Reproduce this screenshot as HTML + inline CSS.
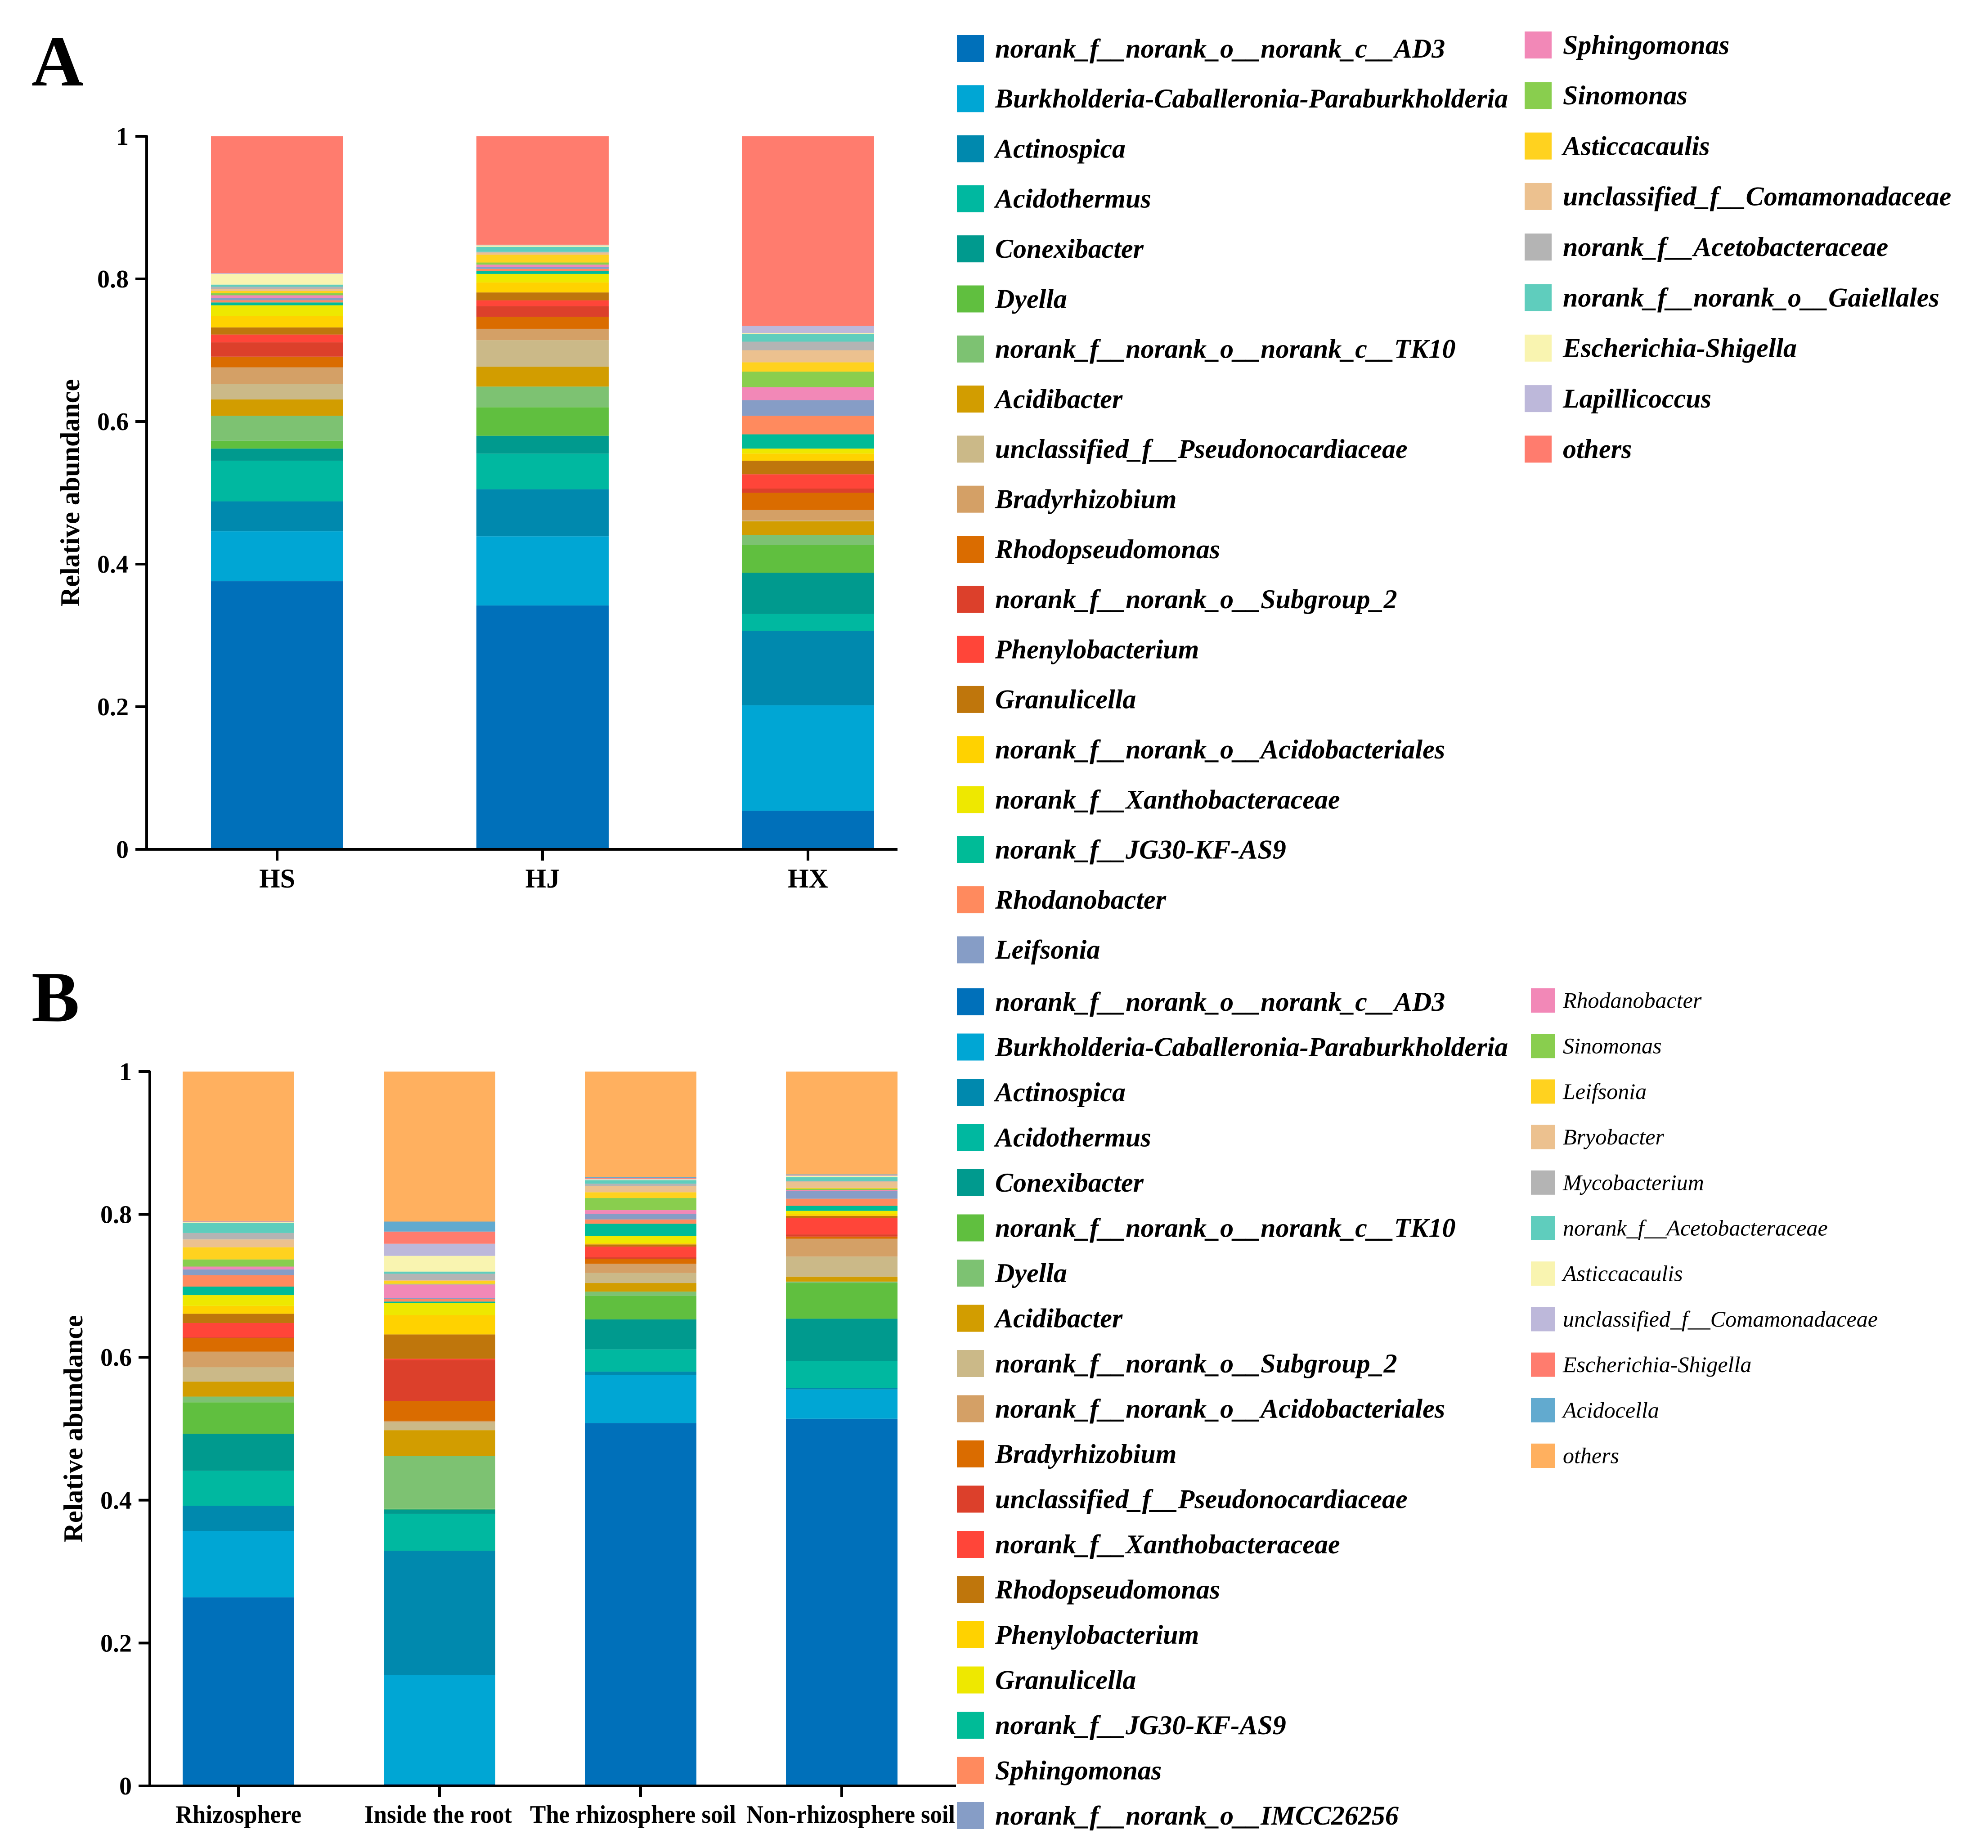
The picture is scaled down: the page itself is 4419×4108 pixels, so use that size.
<!DOCTYPE html>
<html><head><meta charset="utf-8">
<style>
html,body{margin:0;padding:0;background:#fff;}
svg{display:block;font-family:"Liberation Serif",serif;}
</style></head>
<body>
<svg id="chart" width="4419" height="4108" viewBox="0 0 4419 4108" xmlns="http://www.w3.org/2000/svg">
<text x="70" y="190" font-size="160" font-weight="bold">A</text>
<text x="70" y="2270" font-size="160" font-weight="bold">B</text>
<g id="pa"></g>
<g id="pb"></g>
<g id="la"></g>
<g id="lb"></g>
</svg>
<script>
const palette = ["#0070BA","#00A6D4","#0089AE","#00B8A0","#009A8E","#60BF3F","#7DC272","#D29D00","#CBB988","#D4A066","#DA6C00","#DC402B","#FF4539","#BF760C","#FFD200","#EEE800","#00BB97","#FF8A5E","#869DC6","#F288B7","#89CE4E","#FFD21F","#ECC18F","#B4B4B4","#5FCDBD","#F9F4B0","#BDB8DA"];
const colorsAOthers = "#FF7C6E";
const colorsBExtra = ["#FF7C6E","#62AACF","#FFB05F"];

const seriesA = ["norank_f__norank_o__norank_c__AD3","Burkholderia-Caballeronia-Paraburkholderia","Actinospica","Acidothermus","Conexibacter","Dyella","norank_f__norank_o__norank_c__TK10","Acidibacter","unclassified_f__Pseudonocardiaceae","Bradyrhizobium","Rhodopseudomonas","norank_f__norank_o__Subgroup_2","Phenylobacterium","Granulicella","norank_f__norank_o__Acidobacteriales","norank_f__Xanthobacteraceae","norank_f__JG30-KF-AS9","Rhodanobacter","Leifsonia","Sphingomonas","Sinomonas","Asticcacaulis","unclassified_f__Comamonadaceae","norank_f__Acetobacteraceae","norank_f__norank_o__Gaiellales","Escherichia-Shigella","Lapillicoccus","others"];
const categoriesA = ["HS","HJ","HX"];
// cumulative tops per sample (bottom to top)
const cumHS = [0.376,0.446,0.488,0.545,0.562,0.573,0.608,0.631,0.653,0.676,0.691,0.711,0.722,0.732,0.748,0.763,0.767,0.770,0.773,0.777,0.780,0.783,0.786,0.789,0.792,0.807,0.808,1];
const cumHJ = [0.342,0.439,0.505,0.555,0.580,0.620,0.649,0.677,0.714,0.730,0.747,0.762,0.770,0.781,0.795,0.807,0.811,0.814,0.817,0.820,0.823,0.834,0.837,0.838,0.845,0.847,0.848,1];
const cumHX = [0.054,0.202,0.306,0.330,0.388,0.427,0.441,0.460,0.461,0.476,0.500,0.506,0.526,0.545,0.555,0.562,0.582,0.608,0.630,0.648,0.670,0.683,0.700,0.712,0.723,0.724,0.734,1];

const seriesB = ["norank_f__norank_o__norank_c__AD3","Burkholderia-Caballeronia-Paraburkholderia","Actinospica","Acidothermus","Conexibacter","norank_f__norank_o__norank_c__TK10","Dyella","Acidibacter","norank_f__norank_o__Subgroup_2","norank_f__norank_o__Acidobacteriales","Bradyrhizobium","unclassified_f__Pseudonocardiaceae","norank_f__Xanthobacteraceae","Rhodopseudomonas","Phenylobacterium","Granulicella","norank_f__JG30-KF-AS9","Sphingomonas","norank_f__norank_o__IMCC26256","Rhodanobacter","Sinomonas","Leifsonia","Bryobacter","Mycobacterium","norank_f__Acetobacteraceae","Asticcacaulis","unclassified_f__Comamonadaceae","Escherichia-Shigella","Acidocella","others"];
const categoriesB = ["Rhizosphere","Inside the root","The rhizosphere soil","Non-rhizosphere soil"];
const cumRh = [0.264,0.357,0.392,0.441,0.493,0.537,0.545,0.566,0.586,0.608,0.627,0.628,0.648,0.661,0.672,0.687,0.699,0.715,0.723,0.727,0.737,0.754,0.765,0.774,0.788,0.789,0.790,0.7905,0.791,1];
const cumIn = [0.003,0.155,0.329,0.381,0.387,0.388,0.462,0.498,0.509,0.511,0.539,0.596,0.598,0.632,0.659,0.676,0.678,0.682,0.683,0.702,0.703,0.707,0.708,0.717,0.720,0.742,0.759,0.776,0.790,1];
const cumRs = [0.508,0.575,0.580,0.611,0.653,0.686,0.692,0.704,0.718,0.731,0.738,0.740,0.755,0.758,0.760,0.770,0.787,0.793,0.801,0.806,0.823,0.831,0.840,0.843,0.848,0.849,0.850,0.851,0.852,1];
const cumNr = [0.514,0.555,0.557,0.595,0.654,0.704,0.706,0.713,0.741,0.766,0.769,0.772,0.795,0.798,0.801,0.805,0.812,0.822,0.833,0.834,0.836,0.837,0.846,0.847,0.852,0.854,0.8545,0.855,0.856,1];
const yTicks = ["0","0.2","0.4","0.6","0.8","1"];

const NS="http://www.w3.org/2000/svg";
function mk(tag, attrs, parent){const e=document.createElementNS(NS,tag);for(const k in attrs)e.setAttribute(k,attrs[k]);parent.appendChild(e);return e;}

const colorsA = palette.concat([colorsAOthers]);
const colorsB = palette.concat(colorsBExtra);

function drawPanel(g, cfg){
  const y = v => cfg.y0 - v*(cfg.y0-cfg.y1);
  cfg.data.forEach((cum,i)=>{
    const cx = cfg.cx0 + i*cfg.step;
    let prev=0;
    cum.forEach((top,j)=>{
      const r=mk('rect',{x:cx-cfg.bw/2,y:y(top),width:cfg.bw,height:Math.max(0,y(prev)-y(top)),fill:cfg.colors[j]},g);
      
      
      prev=top;
    });
    const t=mk('line',{x1:cx,x2:cx,y1:cfg.y0,y2:cfg.y0+25,stroke:'#000','stroke-width':6},g);
    
    
    const la={x:cx+(cfg.lshift?cfg.lshift[i]:0),y:cfg.y0+cfg.xoff,'font-size':cfg.xfs,'font-weight':'bold','text-anchor':'middle'};
    if(cfg.lw){la.textLength=cfg.lw[i];la.lengthAdjust='spacingAndGlyphs';}
    const lb=mk('text',la,g);
    lb.textContent=cfg.cats[i];
    
    
  });
  const ax=mk('line',{x1:cfg.ax,x2:cfg.ax,y1:cfg.y1-2,y2:cfg.y0,stroke:'#000','stroke-width':6},g);
  
  
  const xa=mk('line',{x1:cfg.ax-25,x2:cfg.xend,y1:cfg.y0,y2:cfg.y0,stroke:'#000','stroke-width':6},g);
  
  
  yTicks.forEach((s,k)=>{
    const v=parseFloat(s), yy=y(v);
    const tk=mk('line',{x1:cfg.ax-25,x2:cfg.ax,y1:yy,y2:yy,stroke:'#000','stroke-width':6},g);
    
    
    const tl=mk('text',{x:cfg.ax-40,y:yy+19,'font-size':56,'font-weight':'bold','text-anchor':'end'},g);
    tl.textContent=s;
    
    
  });
  const yt=mk('text',{x:0,y:0,'font-size':60,'font-weight':'bold','text-anchor':'middle',transform:`translate(${cfg.ax-150},${(cfg.y0+cfg.y1)/2}) rotate(-90)`},g);
  yt.textContent='Relative abundance';
  
  
}

drawPanel(document.getElementById('pa'),{y0:1888,y1:303,ax:326,xend:1995,cx0:616,step:590,bw:294,data:[cumHS,cumHJ,cumHX],cats:categoriesA,colors:colorsA,xfs:60,xoff:85});
drawPanel(document.getElementById('pb'),{y0:3970,y1:2382,ax:333,xend:2125,cx0:530,step:447,bw:248,data:[cumRh,cumIn,cumRs,cumNr],cats:categoriesB,colors:colorsB,xfs:56,xoff:82,lw:[280,328,458,464],lshift:[0,-3,-17,20]});

function drawLegend(g, names, colors, cols){
  let idx=0;
  cols.forEach(c=>{
    for(let r=0;r<c.n && idx<names.length;r++,idx++){
      const cy=c.y0+r*c.dy;
      const sw=mk('rect',{x:c.sx,y:cy-c.ss/2,width:c.ss,height:c.ss,fill:colors[idx]},g);
      
      
      const t=mk('text',{x:c.tx,y:cy+c.fs*0.33,'font-size':c.fs,'font-style':'italic','font-weight':c.bold?'bold':'normal'},g);
      t.textContent=names[idx];
      
      
    }
  });
}
drawLegend(document.getElementById('la'),seriesA,colorsA,[
  {n:19,y0:108,dy:111.3,sx:2127,ss:60,tx:2212,fs:60,bold:true},
  {n:9,y0:100,dy:112.3,sx:3389,ss:60,tx:3474,fs:60,bold:true}
]);
drawLegend(document.getElementById('lb'),seriesB,colorsB,[
  {n:19,y0:2227,dy:100.5,sx:2127,ss:60,tx:2212,fs:60,bold:true},
  {n:11,y0:2224,dy:101.2,sx:3403,ss:54,tx:3474,fs:50,bold:false}
]);
</script>
</body></html>
